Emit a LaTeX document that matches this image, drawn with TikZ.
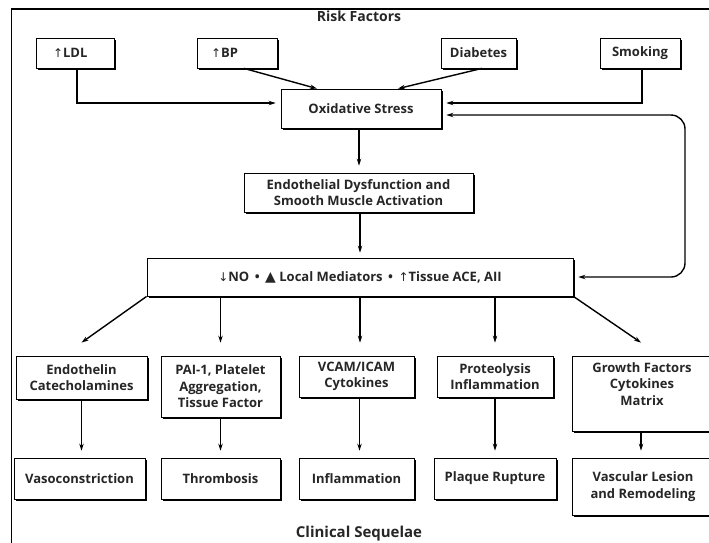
\documentclass[tikz,border=0pt]{standalone}
\usepackage{fontspec}
\setmainfont{Open Sans}
\newfontfamily\sym{DejaVu Sans}
\usetikzlibrary{arrows.meta,shadows}
\newcommand\mkbox[7][]{\node[box,#1,minimum width={(#4)-(#2)},minimum height={(#5)-(#3)}] (#6) at ({((#2)+(#4))/2},{((#3)+(#5))/2}) {#7};}
\newcommand\upar{{\sym\mdseries\fontsize{12}{12}\selectfont ↑}}
\newcommand\dnar{{\sym\mdseries\fontsize{12}{12}\selectfont ↓}}
\begin{document}
\begin{tikzpicture}[x=1pt,y=-1pt,
  font=\fontsize{13}{16.5}\selectfont\bfseries,
  box/.style={draw=black, line width=0.8pt, fill=white, inner sep=0pt, align=center, text=black!85,
    drop shadow={shadow xshift=2.2pt, shadow yshift=-2.2pt, fill=black, opacity=1}},
  arr/.style={line width=1.4pt, -{Stealth[length=7pt,width=4.5pt]}},
  lbl/.style={text=black!85, inner sep=0pt}]
\useasboundingbox (0,0) rectangle (709,542);
\fill[white] (0,0) rectangle (709,542);
% frame
\draw[line width=1.4pt] (11.5,560) -- (11.5,9) -- (720,9);
\node[lbl, font=\fontsize{14}{16}\selectfont\bfseries] (rf) at (359,16) {Risk Factors};
\node[lbl, font=\fontsize{15}{17}\selectfont\bfseries] (cs) at (359,534) {Clinical Sequelae};
% top row
\mkbox{36}{38}{114}{68}{ldl}{\makebox[78pt][l]{\hspace{17pt}\upar LDL}}
\mkbox{197}{38}{277}{68}{bp}{\makebox[80pt][l]{\hspace{14pt}\upar BP}}
\mkbox{441}{38}{516}{68}{diab}{Diabetes}
\mkbox{600}{38}{680}{68}{smok}{Smoking}
\mkbox{281}{89}{441}{128}{ox}{Oxidative Stress}
\mkbox{244}{173}{473}{212}{endo}{Endothelial Dysfunction and\\Smooth Muscle Activation}
\mkbox{147}{258}{573}{296}{no}{\dnar NO \,•\, {\sym\fontsize{14}{14}\selectfont ▲} Local Mediators \,•\, \upar Tissue ACE, AII}
% row 1
\mkbox{16}{356}{147}{399}{ra}{Endothelin\\Catecholamines}
\mkbox{161}{356}{280}{417}{rb}{PAI-1, Platelet\\Aggregation,\\Tissue Factor}
\mkbox{299}{356}{414}{397}{rc}{VCAM/ICAM\\Cytokines}
\mkbox{437}{356}{553}{397}{rd}{Proteolysis\\Inflammation}
\mkbox{572}{356}{714}{431}{re}{}
\node[lbl, align=center] (retext) at (642,384) {Growth Factors\\Cytokines\\Matrix};
% row 2
\mkbox{14}{458}{145}{499}{sa}{Vasoconstriction}
\mkbox{161}{458}{280}{499}{sb}{Thrombosis}
\mkbox{299}{458}{414}{499}{sc}{Inflammation}
\mkbox{434}{458}{556}{499}{sd}{Plaque Rupture}
\mkbox{572}{458}{714}{515}{se}{Vascular Lesion\\and Remodeling}
% connectors top
\draw[arr, shorten >=5pt] ([xshift=2pt]ldl.south) |- ([yshift=5.5pt]ox.west);
\draw[arr, shorten >=5pt] ([xshift=2pt]smok.south) |- ([yshift=5.5pt]ox.east);
\draw[arr] ([xshift=7pt]bp.south) -- ([xshift=-44pt]ox.north);
\draw[arr] ([xshift=3.5pt]diab.south) -- ([xshift=37pt]ox.north);
\draw[arr, shorten >=7pt] ([xshift=-2pt]ox.south) -- ([xshift=-2pt]ox.south |- endo.north);
\draw[arr, shorten >=5pt] (no.north |- endo.south) -- (no.north);
\draw[line width=1.4pt, {Stealth[length=7pt,width=4.5pt]}-{Stealth[length=7pt,width=4.5pt]}, shorten >=5pt, shorten <=5pt, rounded corners=14pt]
  ([yshift=-6.5pt]ox.east) -- (685,115) -- (685,277) -- (no.east);
% NO to row 1
\draw[arr] (no.south west) -- ([yshift=13pt]ra.north);
\draw[arr, shorten >=13pt] (rb.north |- no.south) -- (rb.north);
\draw[arr, shorten >=13pt] (no.south) -- (no.south |- rc.north);
\draw[arr, shorten >=13pt] (rd.north |- no.south) -- (rd.north);
\draw[arr] (no.south east) -- ([xshift=-2pt,yshift=13pt]re.north);
% row 1 to row 2
\draw[arr, shorten >=7pt] (ra.south) -- (ra.south |- sa.north);
\draw[arr, shorten >=7pt] (rb.south) -- (rb.south |- sb.north);
\draw[arr, shorten >=7pt] ([xshift=3pt]rc.south) -- ([xshift=3pt]rc.south |- sc.north);
\draw[arr, shorten >=7pt] (rd.south) -- (rd.south |- sd.north);
\draw[arr, shorten >=7pt] ([xshift=-2pt]re.south) -- ([xshift=-2pt]re.south |- se.north);
\end{tikzpicture}
\end{document}
